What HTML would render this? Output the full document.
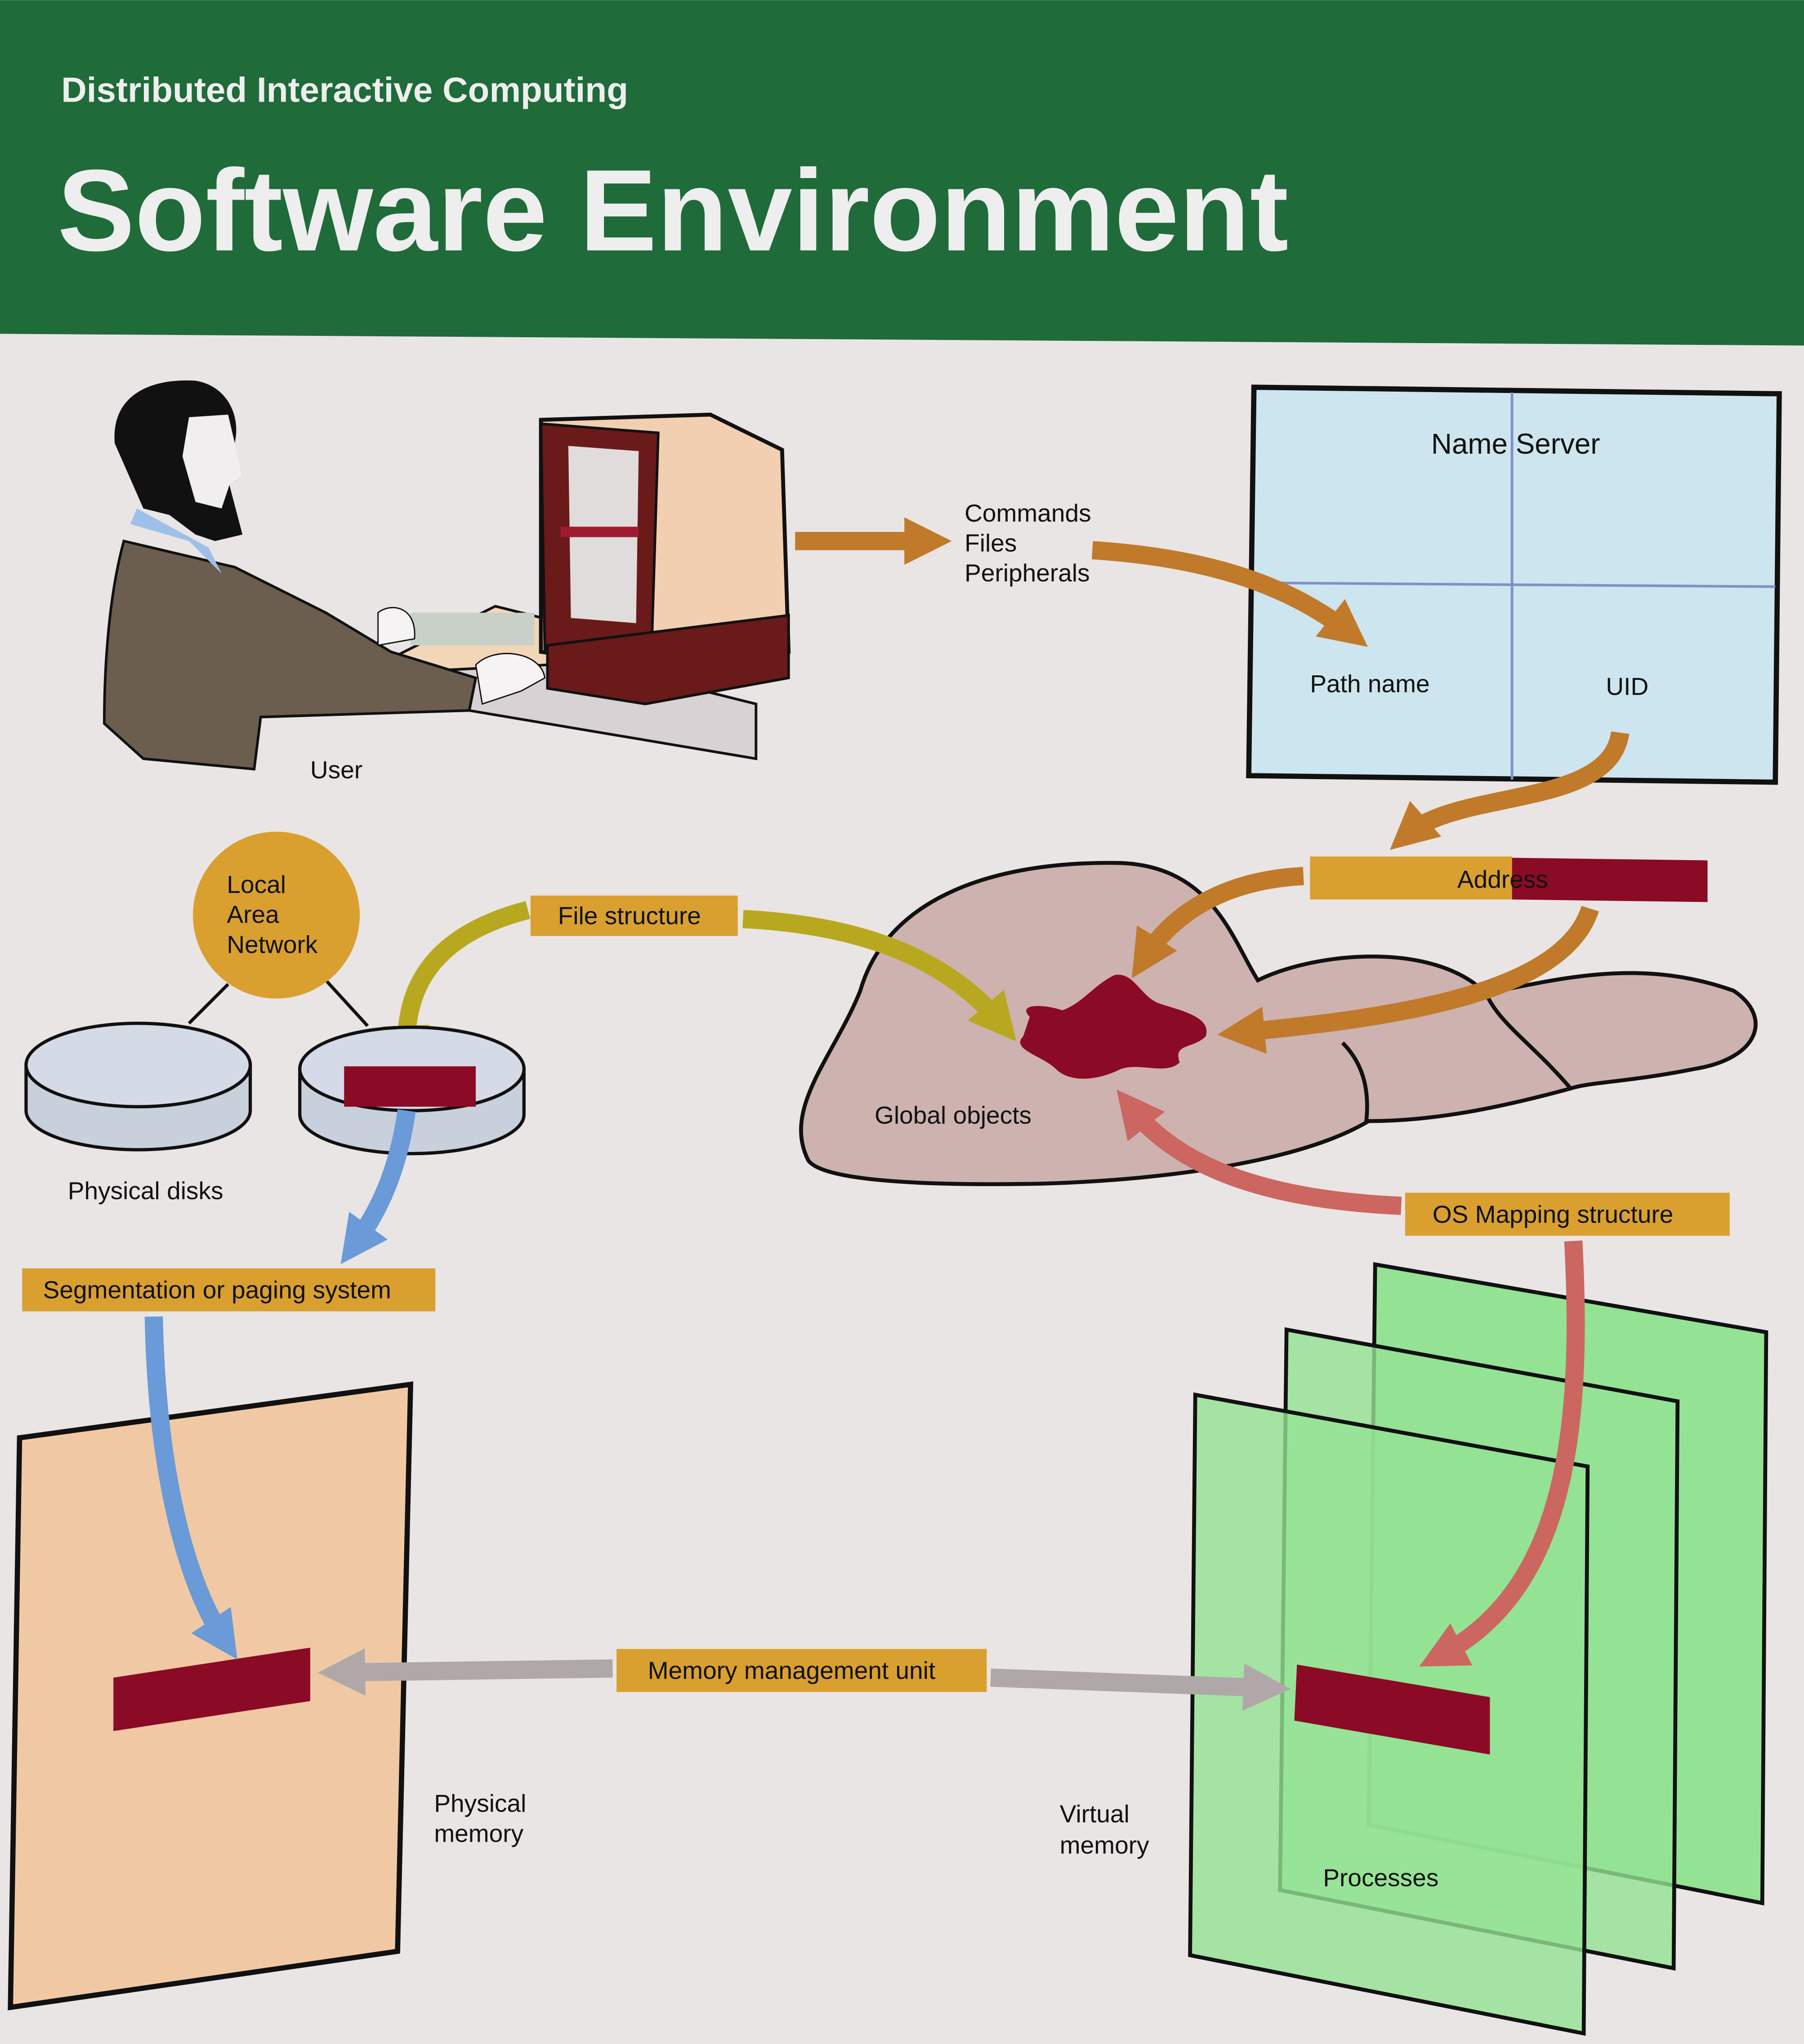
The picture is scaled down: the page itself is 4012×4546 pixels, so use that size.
<!DOCTYPE html>
<html><head><meta charset="utf-8"><style>
html,body{margin:0;padding:0;background:#e9e5e4}
svg{display:block}
text{font-family:"Liberation Sans",sans-serif;fill:#111}
</style></head><body>
<svg width="4012" height="4546" viewBox="0 0 1384 1568" xmlns="http://www.w3.org/2000/svg">
<defs>
<marker id="h" viewBox="0 0 10 10" refX="5" refY="5" markerWidth="2.6" markerHeight="2.6" orient="auto"><path d="M0,0 L10,5 L0,10 Z" fill="context-stroke"/></marker>
</defs>
<rect width="1384" height="1568" fill="#e9e5e4"/>
<polygon points="0,0 1384,0 1384,265 0,256" fill="#1f6b3a"/>
<text x="47" y="78" font-size="27" font-weight="bold" style="fill:#eee">Distributed Interactive Computing</text>
<text x="44" y="192" font-size="89" font-weight="bold" style="fill:#eee">Software Environment</text>

<!-- user illustration -->
<polygon points="300,505 420,500 580,540 580,582 360,545" fill="#d8d2d4" stroke="#111" stroke-width="2"/>
<polygon points="300,505 380,465 440,480 420,510 320,515" fill="#f2d6b8" stroke="#111" stroke-width="2"/>
<rect x="315" y="470" width="95" height="25" fill="#c8d0c8"/>
<polygon points="415,322 545,318 600,345 605,500 500,512 415,500" fill="#f2cfb0" stroke="#111" stroke-width="3"/>
<polygon points="415,325 505,332 500,495 418,498" fill="#6a1a18" stroke="#111" stroke-width="2"/>
<polygon points="436,342 490,346 488,478 438,474" fill="#e0dcdc"/>
<rect x="430" y="404" width="60" height="8" fill="#a01a30"/>
<polygon points="420,495 605,472 605,520 495,540 420,528" fill="#6a1a18" stroke="#111" stroke-width="2"/>
<path d="M95,415 C80,470 80,540 80,555 L110,582 L195,590 L200,550 L360,545 L365,520 L300,500 L250,470 L180,435 Z" fill="#6b5e4e" stroke="#111" stroke-width="2"/>
<polygon points="105,390 160,420 170,440 145,415 100,402" fill="#9ec0e8"/>
<path d="M88,340 C85,300 120,290 150,292 C175,296 185,320 180,340 L186,365 L176,372 L186,410 L165,415 L150,410 L130,395 L110,390 Z" fill="#111"/>
<path d="M145,320 L175,318 L186,365 L176,372 L170,390 L150,385 L140,350 Z" fill="#f0eeee"/>
<path d="M290,470 C300,462 320,465 318,490 L290,495 Z" fill="#f5f3f3" stroke="#111"/>
<path d="M365,510 C380,495 415,500 418,520 L400,530 L370,540 Z" fill="#f5f3f3" stroke="#111"/>
<text x="238" y="597" font-size="19">User</text>

<!-- name server -->
<polygon points="962,297 1365,302 1362,600 958,595" fill="#cde5ee" stroke="#111" stroke-width="4"/>
<line x1="1160" y1="301" x2="1160" y2="598" stroke="#8090c8" stroke-width="2"/>
<line x1="960" y1="447" x2="1362" y2="450" stroke="#8090c8" stroke-width="2"/>
<text x="1098" y="348" font-size="22">Name Server</text>
<text x="1005" y="531" font-size="19">Path name</text>
<text x="1232" y="533" font-size="19">UID</text>

<!-- commands arrows -->
<line x1="610" y1="415" x2="712" y2="415" stroke="#c07a2a" stroke-width="14" marker-end="url(#h)"/>
<text x="740" y="400" font-size="19">Commands</text>
<text x="740" y="423" font-size="19">Files</text>
<text x="740" y="446" font-size="19">Peripherals</text>
<path d="M838,422 C930,428 990,450 1035,485" fill="none" stroke="#c07a2a" stroke-width="14" marker-end="url(#h)"/>
<path d="M1243,562 C1235,620 1120,605 1080,640" fill="none" stroke="#c07a2a" stroke-width="14" marker-end="url(#h)"/>

<!-- blob -->
<path d="M620,890 C600,850 640,810 660,760 C680,690 760,660 860,662 C930,665 945,720 965,752 C1010,730 1100,722 1140,762 C1200,750 1260,735 1330,760 C1360,780 1350,812 1300,820 C1250,830 1220,830 1205,835 C1150,850 1100,860 1050,860 C1000,890 900,905 800,908 C700,910 630,905 620,890 Z" fill="#cdb2b0" stroke="#111" stroke-width="3"/>
<path d="M1030,800 C1050,820 1050,845 1048,862" fill="none" stroke="#111" stroke-width="3"/>
<path d="M1140,762 C1150,785 1175,800 1205,835" fill="none" stroke="#111" stroke-width="3"/>
<path d="M790,780 C780,770 800,770 815,775 C830,770 840,755 855,748 C870,745 875,765 890,770 C905,775 930,780 925,795 C915,805 900,800 905,815 C895,825 875,815 860,820 C840,830 820,830 810,820 C800,810 775,805 785,795 Z" fill="#8b0a25"/>
<text x="671" y="862" font-size="19">Global objects</text>
<rect x="1005" y="657" width="155" height="33" fill="#d9a030"/>
<polygon points="1160,658 1310,660 1310,692 1160,690" fill="#8b0a25"/>
<text x="1118" y="681" font-size="19">Address</text>
<path d="M1000,672 C940,675 900,700 878,735" fill="none" stroke="#c07a2a" stroke-width="14" marker-end="url(#h)"/>
<path d="M1220,697 C1200,760 1080,780 952,792" fill="none" stroke="#c07a2a" stroke-width="14" marker-end="url(#h)"/>

<!-- file structure -->
<rect x="407" y="687" width="159" height="31" fill="#d9a030"/>
<text x="428" y="709" font-size="19">File structure</text>
<path d="M405,698 C340,715 310,750 312,805" fill="none" stroke="#b8a820" stroke-width="14" marker-end="url(#h)"/>
<path d="M570,705 C670,710 730,740 768,785" fill="none" stroke="#b8a820" stroke-width="14" marker-end="url(#h)"/>

<!-- LAN -->
<line x1="175" y1="755" x2="145" y2="785" stroke="#111" stroke-width="2.5"/>
<line x1="250" y1="752" x2="282" y2="787" stroke="#111" stroke-width="2.5"/>
<circle cx="212" cy="702" r="64" fill="#d9a030"/>
<text x="174" y="685" font-size="19">Local</text>
<text x="174" y="708" font-size="19">Area</text>
<text x="174" y="731" font-size="19">Network</text>
<path d="M20,817 L20,852 A86,30 0 0 0 192,852 L192,817 Z" fill="#c8d0dc" stroke="#111" stroke-width="2.5"/>
<ellipse cx="106" cy="817" rx="86" ry="32" fill="#d4dbe6" stroke="#111" stroke-width="2.5"/>
<path d="M230,820 L230,855 A86,30 0 0 0 402,855 L402,820 Z" fill="#c8d0dc" stroke="#111" stroke-width="2.5"/>
<ellipse cx="316" cy="820" rx="86" ry="32" fill="#d4dbe6" stroke="#111" stroke-width="2.5"/>
<rect x="264" y="818" width="101" height="31" fill="#8b0a25"/>
<text x="52" y="920" font-size="19">Physical disks</text>
<path d="M312,852 C305,900 290,930 272,955" fill="none" stroke="#6a9ad8" stroke-width="14" marker-end="url(#h)"/>

<rect x="17" y="973" width="317" height="33" fill="#d9a030"/>
<text x="33" y="996" font-size="19">Segmentation or paging system</text>

<!-- physical memory -->
<polygon points="15,1103 315,1062 305,1497 8,1540" fill="#f0c9a4" stroke="#111" stroke-width="4"/>
<polygon points="87,1287 238,1264 238,1305 87,1328" fill="#8b0a25"/>
<path d="M118,1010 C120,1120 140,1210 172,1258" fill="none" stroke="#6a9ad8" stroke-width="14" marker-end="url(#h)"/>
<text x="333" y="1390" font-size="19">Physical</text>
<text x="333" y="1413" font-size="19">memory</text>

<!-- green panels -->
<polygon points="1055,970 1355,1022 1352,1460 1050,1400" fill="#94e294" stroke="#111" stroke-width="3"/>
<polygon points="987,1020 1287,1075 1284,1510 982,1450" fill="#94e294" fill-opacity="0.8" stroke="#111" stroke-width="3"/>
<polygon points="917,1070 1218,1125 1215,1560 913,1500" fill="#94e294" fill-opacity="0.8" stroke="#111" stroke-width="3"/>
<polygon points="995,1277 1143,1302 1143,1346 993,1320" fill="#8b0a25"/>
<text x="1015" y="1447" font-size="19">Processes</text>
<text x="813" y="1398" font-size="19">Virtual</text>
<text x="813" y="1422" font-size="19">memory</text>

<!-- MMU -->
<line x1="470" y1="1280" x2="262" y2="1283" stroke="#b0a8a8" stroke-width="14" marker-end="url(#h)"/>
<line x1="760" y1="1287" x2="972" y2="1295" stroke="#b0a8a8" stroke-width="14" marker-end="url(#h)"/>
<rect x="473" y="1265" width="284" height="33" fill="#d9a030"/>
<text x="497" y="1288" font-size="19">Memory management unit</text>

<!-- OS mapping -->
<rect x="1078" y="915" width="249" height="33" fill="#d9a030"/>
<text x="1099" y="938" font-size="19">OS Mapping structure</text>
<path d="M1075,925 C960,920 900,890 868,850" fill="none" stroke="#cc6660" stroke-width="14" marker-end="url(#h)"/>
<path d="M1207,952 C1215,1100 1200,1220 1105,1270" fill="none" stroke="#cc6660" stroke-width="14" marker-end="url(#h)"/>
</svg>
</body></html>
